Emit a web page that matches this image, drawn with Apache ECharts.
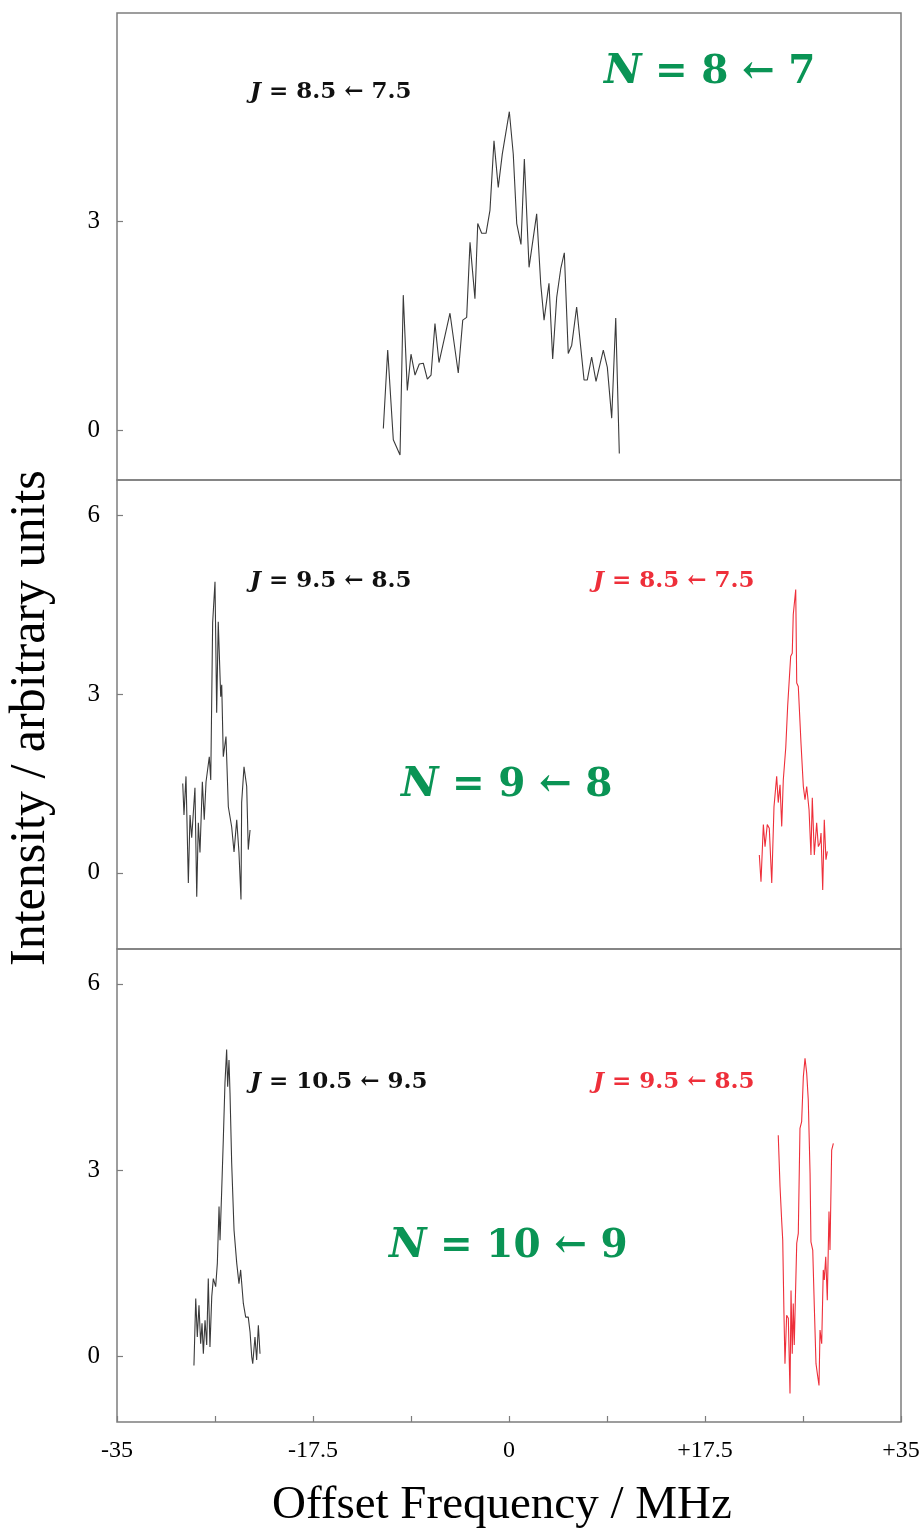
<!DOCTYPE html>
<html>
<head>
<meta charset="utf-8">
<script src="https://cdn.jsdelivr.net/npm/echarts@6/dist/echarts.min.js"></script>
<style>
  html, body { margin: 0; padding: 0; background: #fff; }
  #chart { width: 920px; height: 1531px; }
</style>
</head>
<body>
<div id="chart"></div>
<script>
  // panel 1: N = 8 <- 7
  var n8x = [-11.22, -10.83, -10.33, -9.73, -9.44, -9.08, -8.75, -8.39, -8.01, -7.65, -7.29, -6.96, -6.61, -6.25,
    -5.27, -4.53, -4.13, -3.78, -3.48, -3.04, -2.79, -2.44, -2.05, -1.70, -1.34, -0.96, -0.60, 0.03, 0.38, 0.69,
    1.07, 1.37, 1.79, 2.47, 2.83, 3.13, 3.57, 3.90, 4.26, 4.62, 4.94, 5.29, 5.60, 6.04, 6.70, 6.99, 7.38, 7.77,
    8.42, 8.78, 9.17, 9.53, 9.85];
  var n8y = [0.02, 1.15, -0.14, -0.36, 1.94, 0.57, 1.09, 0.79, 0.95, 0.96, 0.73, 0.79, 1.53, 0.97,
    1.68, 0.82, 1.58, 1.62, 2.70, 1.89, 2.97, 2.83, 2.83, 3.16, 4.16, 3.49, 3.97, 4.58, 3.97, 2.97,
    2.67, 3.90, 2.34, 3.11, 2.11, 1.58, 2.11, 1.02, 1.91, 2.32, 2.55, 1.10, 1.22, 1.77, 0.72, 0.72, 1.05, 0.70,
    1.15, 0.90, 0.17, 1.61, -0.34];

  // panel 2: N = 9 <- 8
  var n9aX = [-29.13, -29.02, -28.84, -28.63, -28.48, -28.33, -28.04, -27.88, -27.74, -27.59, -27.38, -27.21, -27.05,
    -26.76, -26.63, -26.46, -26.25, -26.10, -25.96, -25.74, -25.65, -25.51, -25.27, -25.06, -24.76, -24.55, -24.31,
    -24.11, -23.93, -23.87, -23.66, -23.42, -23.28, -23.12];
  var n9aY = [1.50, 0.97, 1.62, -0.17, 0.97, 0.59, 1.43, -0.40, 0.84, 0.34, 1.53, 0.89, 1.53,
    1.95, 1.56, 4.20, 4.89, 2.69, 4.22, 2.96, 3.16, 1.95, 2.29, 1.11, 0.77, 0.35, 0.89,
    0.34, -0.45, 1.18, 1.78, 1.45, 0.39, 0.72];
  var n9bX = [22.35, 22.50, 22.71, 22.86, 23.06, 23.24, 23.46, 23.66, 23.90, 24.04, 24.20, 24.35, 24.49, 24.71,
    24.88, 25.03, 25.15, 25.29, 25.38, 25.60, 25.69, 25.83, 26.07, 26.28, 26.43, 26.58, 26.79, 26.96, 27.08,
    27.26, 27.47, 27.62, 27.77, 27.86, 28.01, 28.15, 28.30, 28.42];
  var n9bY = [0.30, -0.15, 0.81, 0.44, 0.81, 0.75, -0.17, 1.11, 1.62, 1.18, 1.48, 0.78, 1.56, 2.10,
    2.80, 2.82, 3.64, 3.69, 4.34, 4.76, 3.19, 3.13, 2.18, 1.45, 1.23, 1.45, 1.06, 0.30, 1.26,
    0.30, 0.84, 0.44, 0.50, 0.67, -0.29, 0.89, 0.22, 0.36];

  // panel 3: N = 10 <- 9
  var n10aX = [-28.13, -27.97, -27.83, -27.68, -27.53, -27.41, -27.29, -27.14, -26.99, -26.85, -26.70, -26.54, -26.40,
    -26.19, -26.04, -25.89, -25.80, -25.65, -25.51, -25.36, -25.21, -25.12, -25.00, -24.91, -24.76, -24.55, -24.31,
    -24.11, -23.96, -23.72, -23.51, -23.28, -23.12, -22.97, -22.88, -22.68, -22.53, -22.38, -22.23];
  var n10aY = [-0.15, 0.93, 0.31, 0.82, 0.20, 0.53, 0.04, 0.58, 0.18, 1.25, 0.15, 0.96, 1.25,
    1.12, 1.50, 2.41, 1.87, 2.68, 3.48, 4.40, 4.94, 4.34, 4.77, 4.24, 3.11, 2.03, 1.50,
    1.17, 1.39, 0.85, 0.63, 0.63, 0.39, -0.01, -0.12, 0.31, -0.06, 0.50, 0.04];
  var n10bX = [24.04, 24.20, 24.35, 24.44, 24.55, 24.64, 24.79, 24.94, 25.09, 25.18, 25.29, 25.38, 25.47, 25.69,
    25.83, 25.92, 25.98, 26.13, 26.28, 26.43, 26.58, 26.72, 26.88, 26.96, 27.12, 27.26, 27.41, 27.53, 27.68,
    27.77, 27.92, 28.06, 28.15, 28.28, 28.42, 28.57, 28.66, 28.81, 28.96];
  var n10bY = [3.56, 2.73, 2.17, 1.87, 0.69, -0.12, 0.66, 0.61, -0.60, 1.06, 0.04, 0.85, 0.18, 1.82,
    1.98, 3.00, 3.67, 3.78, 4.50, 4.80, 4.56, 4.13, 2.95, 1.84, 1.71, 0.80, -0.12, -0.28, -0.47,
    0.42, 0.20, 1.39, 1.23, 1.60, 0.90, 2.33, 1.71, 3.32, 3.43];

  var xTicks = [-35, -26.25, -17.5, -8.75, 0, 8.75, 17.5, 26.25, 35];
  var xLabels = [-35, -17.5, 0, 17.5, 35];

  var serif = '"Liberation Serif", "DejaVu Serif", serif';
  var boldSerif = '"DejaVu Serif", serif';
  var black = '#3a3a3a';
  var red = '#ee2f3a';
  var green = '#0a9455';
  var frame = '#7d7d7d';

  function pairs(xs, ys) {
    return xs.map(function (x, i) { return [x, ys[i]]; });
  }

  var panels = [
    { top: 13, height: 467, min: -0.72, max: 6, labels: [0, 3] },
    { top: 480, height: 469, min: -1.28, max: 6.6, labels: [0, 3, 6] },
    { top: 949, height: 473, min: -1.06, max: 6.56, labels: [0, 3, 6] }
  ];

  var chart = echarts.init(document.getElementById('chart'));

  var grids = [], xAxes = [], yAxes = [];
  panels.forEach(function (p, i) {
    grids.push({
      left: 117, right: 19, top: p.top, height: p.height,
      outerBoundsMode: 'none', containLabel: false,
      show: true, borderColor: frame, borderWidth: 1.5, backgroundColor: 'transparent'
    });
    var bottom = i === panels.length - 1;
    xAxes.push({
      type: 'value', gridIndex: i, min: -35, max: 35, position: 'bottom',
      axisLine: { show: false, onZero: false },
      splitLine: { show: false },
      axisTick: { show: bottom, inside: true, length: 6, customValues: xTicks, lineStyle: { color: frame, width: 1.2 } },
      axisLabel: {
        show: bottom, customValues: xLabels, margin: 17,
        color: '#000', fontFamily: serif, fontSize: 24,
        formatter: function (v) { return v > 0 ? '+' + v : '' + v; }
      }
    });
    yAxes.push({
      type: 'value', gridIndex: i, min: p.min, max: p.max, position: 'left',
      axisLine: { show: false, onZero: false },
      splitLine: { show: false },
      axisTick: { show: true, inside: true, length: 6, customValues: p.labels, lineStyle: { color: frame, width: 1.2 } },
      axisLabel: { customValues: p.labels, margin: 17, color: '#000', fontFamily: serif, fontSize: 25 }
    });
  });

  function line(xs, ys, idx, color) {
    return {
      type: 'line', xAxisIndex: idx, yAxisIndex: idx,
      data: pairs(xs, ys), showSymbol: false, symbol: 'none',
      lineStyle: { color: color, width: 1.1 }
    };
  }

  function jLabel(text, x, y, color) {
    return {
      type: 'text', left: x, top: y,
      style: {
        text: '{i|J}{t|' + text + '}',
        fill: color,
        rich: {
          i: { fontStyle: 'italic', fontWeight: 'bold', fontSize: 23, fontFamily: boldSerif, fill: color },
          t: { fontWeight: 'bold', fontSize: 23, fontFamily: boldSerif, fill: color }
        }
      }
    };
  }

  function nLabel(text, x, y) {
    return {
      type: 'text', left: x, top: y,
      style: {
        text: '{i|N}{t|' + text + '}',
        fill: green,
        rich: {
          i: { fontStyle: 'italic', fontWeight: 'bold', fontSize: 41, fontFamily: boldSerif, fill: green },
          t: { fontWeight: 'bold', fontSize: 39, fontFamily: boldSerif, fill: green }
        }
      }
    };
  }

  chart.setOption({
    animation: false,
    backgroundColor: '#fff',
    grid: grids,
    xAxis: xAxes,
    yAxis: yAxes,
    series: [
      line(n8x, n8y, 0, black),
      line(n9aX, n9aY, 1, black),
      line(n9bX, n9bY, 1, red),
      line(n10aX, n10aY, 2, black),
      line(n10bX, n10bY, 2, red)
    ],
    graphic: [
      jLabel(' = 8.5 \u2190 7.5', 250, 81, '#111'),
      nLabel(' = 8 \u2190 7', 604, 52),
      jLabel(' = 9.5 \u2190 8.5', 250, 570, '#111'),
      jLabel(' = 8.5 \u2190 7.5', 593, 570, red),
      nLabel(' = 9 \u2190 8', 401, 765),
      jLabel(' = 10.5 \u2190 9.5', 250, 1071, '#111'),
      jLabel(' = 9.5 \u2190 8.5', 593, 1071, red),
      nLabel(' = 10 \u2190 9', 389, 1226),
      {
        type: 'text', left: 272, top: 1482,
        style: { text: 'Offset Frequency / MHz', fill: '#000', fontFamily: serif, fontSize: 47 }
      },
      {
        type: 'text', x: 6, y: 966, rotation: Math.PI / 2,
        style: { text: 'Intensity / arbitrary units', fill: '#000', fontFamily: serif, fontSize: 50, verticalAlign: 'top' }
      }
    ]
  });
</script>
</body>
</html>
